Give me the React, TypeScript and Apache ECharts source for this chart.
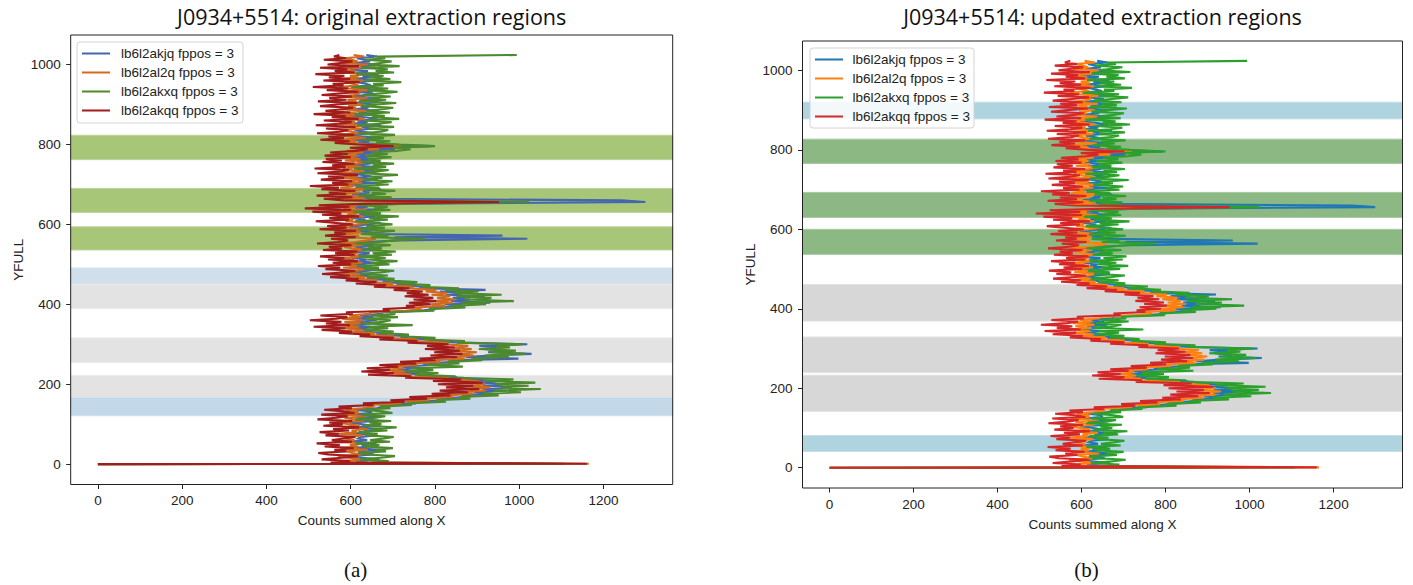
import React, { useEffect, useRef } from "react";
import * as echarts from "echarts";

// ---------- texts ----------
const TITLE_A = "J0934+5514: original extraction regions";
const TITLE_B = "J0934+5514: updated extraction regions";
const X_NAME = "Counts summed along X";
const Y_NAME = "YFULL";
const PANEL_TAGS = ["(a)", "(b)"];
const SERIES_NAMES = [
  "lb6l2akjq fppos = 3",
  "lb6l2al2q fppos = 3",
  "lb6l2akxq fppos = 3",
  "lb6l2akqq fppos = 3",
];

// ---------- ticks ----------
const X_TICKS = [0, 200, 400, 600, 800, 1000, 1200];
const Y_TICKS = [0, 200, 400, 600, 800, 1000];

// ---------- data rows (YFULL): 0, 1, then every 4th row up to 1024 ----------
const FIRST_ROWS = [0, 1];
const ROW_STEP = 4;
const ROW_COUNT = 256;
const YFULL = [...FIRST_ROWS, ...Array.from({ length: ROW_COUNT }, (_, i) => ROW_STEP * (i + 1))];

// ---------- counts summed along X ----------
const BLUE_X = [0, 905,
  641, 612, 668, 627, 599, 655, 634, 618, 672, 603, 647, 626, 661, 594, 639, 617,
  624, 660, 601, 645, 631, 674, 609, 652, 628, 596, 664, 638, 615, 669, 604, 649,
  647, 611, 662, 680, 671, 752, 751, 822, 806, 879, 864, 935, 892, 961, 913, 982,
  914, 968, 902, 949, 879, 867, 760, 777, 715, 762, 709, 758, 722, 794, 772, 851,
  832, 998, 873, 931, 1029, 926, 958, 917, 949, 905, 1019, 862, 789, 794, 718, 736,
  661, 688, 617, 657, 606, 648, 598, 651, 612, 662, 603, 654, 622, 673, 676, 762,
  801, 786, 862, 823, 931, 838, 884, 842, 918, 826, 865, 812, 920, 763, 781, 709,
  731, 676, 692, 638, 663, 614, 650, 601, 641, 667, 609, 648, 597, 656, 620, 637,
  603, 660, 617, 645, 594, 668, 629, 611, 654, 598, 640, 712, 1019, 704, 960, 652,
  651, 608, 663, 624, 597, 642, 671, 613, 635, 601, 659, 620, 646, 592, 667, 611,
  640, 602, 735, 1299, 1243, 668, 619, 657, 603, 645, 628, 672, 611, 638, 596, 662,
  618, 664, 605, 649, 627, 594, 661, 633, 612, 656, 600, 643, 670, 615, 652, 608,
  646, 612, 659, 621, 705, 655, 792, 672, 617, 644, 601, 666, 627, 597, 654, 630,
  609, 657, 626, 672, 603, 640, 615, 663, 634, 596, 650, 619, 667, 606, 642, 624,
  661, 607, 644, 622, 669, 598, 637, 653, 614, 671, 626, 601, 648, 635, 616, 660,
  604, 649, 628, 666, 611, 641, 597, 658, 623, 670, 609, 646, 631, 615, 662, 637];

const ORANGE_X = [0, 1165,
  612, 581, 634, 596, 570, 627, 604, 589, 641, 575, 618, 598, 632, 566, 609, 587,
  593, 628, 571, 615, 602, 639, 580, 621, 597, 566, 630, 608, 585, 636, 574, 617,
  617, 589, 628, 651, 643, 718, 721, 787, 770, 842, 829, 891, 857, 918, 874, 931,
  872, 920, 865, 903, 842, 828, 731, 742, 686, 729, 681, 724, 695, 759, 741, 812,
  798, 871, 838, 892, 851, 899, 846, 887, 838, 879, 820, 827, 751, 759, 687, 703,
  632, 657, 591, 628, 580, 619, 574, 624, 585, 631, 579, 626, 596, 643, 648, 729,
  768, 752, 824, 791, 841, 800, 847, 805, 836, 792, 828, 778, 803, 731, 749, 678,
  701, 645, 663, 610, 634, 588, 622, 575, 613, 637, 582, 619, 571, 627, 594, 608,
  577, 631, 590, 616, 568, 639, 602, 584, 625, 573, 611, 642, 660, 597, 620, 581,
  624, 580, 633, 596, 569, 615, 641, 587, 606, 574, 629, 592, 618, 565, 637, 583,
  612, 571, 689, 811, 628, 579, 634, 592, 568, 621, 587, 640, 575, 609, 563, 626,
  589, 635, 574, 618, 597, 564, 630, 603, 582, 627, 571, 614, 640, 586, 621, 578,
  616, 583, 629, 591, 668, 624, 721, 642, 588, 613, 571, 636, 597, 566, 624, 601,
  580, 627, 596, 642, 573, 610, 585, 633, 604, 567, 621, 589, 637, 576, 612, 594,
  631, 578, 614, 592, 639, 569, 607, 623, 584, 641, 596, 572, 618, 605, 586, 630,
  575, 619, 598, 636, 582, 611, 567, 628, 593, 640, 579, 616, 601, 585, 632, 607];

const GREEN_X = [0, 1108,
  648, 690, 622, 671, 705, 640, 617, 684, 659, 700, 631, 668, 612, 693, 646, 679,
  702, 635, 664, 618, 687, 651, 709, 628, 673, 644, 696, 611, 660, 682, 625, 699,
  676, 628, 694, 668, 745, 733, 826, 802, 884, 858, 951, 912, 1004, 938, 1051, 957,
  1022, 944, 1038, 921, 986, 853, 847, 752, 808, 731, 796, 742, 866, 781, 858, 829,
  912, 887, 975, 918, 1015, 931, 992, 904, 978, 947, 1008, 852, 871, 773, 801, 718,
  738, 668, 702, 631, 689, 641, 747, 627, 676, 695, 634, 712, 648, 706, 694, 798,
  786, 872, 838, 921, 862, 987, 870, 934, 851, 958, 846, 903, 824, 857, 768, 789,
  712, 758, 681, 704, 639, 688, 622, 671, 703, 630, 667, 615, 692, 649, 711, 637,
  683, 619, 698, 652, 707, 626, 674, 641, 695, 613, 668, 703, 776, 648, 690, 624,
  659, 705, 618, 681, 637, 699, 652, 610, 688, 643, 714, 629, 672, 606, 694, 655,
  688, 622, 736, 1023, 701, 640, 697, 618, 683, 649, 706, 631, 668, 612, 690, 657,
  699, 628, 675, 644, 712, 620, 661, 690, 608, 684, 652, 703, 625, 671, 640, 697,
  634, 688, 651, 709, 742, 698, 800, 716, 660, 694, 627, 679, 646, 705, 618, 672,
  689, 641, 703, 615, 668, 697, 632, 715, 650, 681, 609, 693, 638, 676, 701, 624,
  662, 708, 619, 684, 647, 695, 628, 672, 711, 640, 689, 606, 678, 653, 720, 631,
  694, 645, 678, 613, 703, 659, 688, 624, 716, 642, 671, 697, 633, 682, 660, 994];

const RED_X = [0, 1160,
  552, 598, 531, 579, 617, 546, 523, 590, 561, 607, 538, 574, 519, 603, 555, 584,
  611, 540, 572, 526, 596, 558, 620, 535, 581, 549, 604, 521, 566, 593, 530, 609,
  584, 537, 603, 571, 654, 629, 728, 694, 781, 739, 836, 792, 878, 811, 905, 826,
  891, 807, 913, 795, 862, 729, 744, 641, 702, 625, 693, 638, 712, 668, 755, 717,
  801, 763, 852, 789, 865, 798, 859, 776, 847, 781, 832, 735, 758, 668, 702, 621,
  646, 572, 603, 531, 587, 512, 598, 541, 578, 503, 566, 592, 528, 605, 589, 693,
  676, 752, 731, 790, 738, 803, 749, 796, 728, 785, 733, 771, 702, 739, 655, 684,
  612, 661, 588, 619, 551, 598, 532, 583, 611, 540, 575, 522, 601, 557, 618, 546,
  585, 527, 609, 563, 616, 534, 579, 548, 602, 520, 571, 594, 553, 612, 539, 588,
  561, 613, 526, 590, 544, 605, 558, 517, 596, 549, 620, 532, 578, 509, 601, 491,
  597, 524, 642, 952, 583, 536, 604, 519, 589, 548, 611, 530, 572, 503, 595, 556,
  603, 529, 584, 546, 617, 521, 570, 596, 514, 588, 556, 609, 533, 579, 541, 600,
  538, 593, 551, 612, 640, 598, 702, 617, 562, 597, 528, 584, 547, 608, 520, 575,
  594, 541, 611, 517, 573, 602, 536, 619, 555, 588, 512, 599, 540, 581, 606, 527,
  566, 615, 522, 590, 549, 603, 531, 577, 618, 543, 594, 510, 583, 557, 621, 535,
  599, 548, 585, 516, 609, 562, 592, 527, 620, 545, 576, 604, 536, 589, 560, 573];

const SERIES_X = [BLUE_X, ORANGE_X, GREEN_X, RED_X];

// ---------- extraction regions: [low YFULL, high YFULL, kind] ----------
// kind: 0 = source (green), 1 = background (grey), 2 = lower sky (blue), 3 = upper sky (blue)
const REGIONS_A_LOW = [762, 630, 536, 450, 389, 254, 167, 121];
const REGIONS_A_HIGH = [823, 690, 594, 491, 450, 316, 222, 167];
const REGIONS_A_KIND = [0, 0, 0, 3, 1, 1, 1, 2];

const REGIONS_B_LOW = [878, 766, 630, 537, 369, 240, 142, 41];
const REGIONS_B_HIGH = [920, 827, 693, 600, 461, 329, 233, 81];
const REGIONS_B_KIND = [3, 0, 0, 0, 1, 1, 1, 2];

// ---------- styles ----------
const COLORS_A = ["#4465b0", "#cf6a1e", "#4b8a2d", "#a31c1c"];
const COLORS_B = ["#1f77b4", "#ff7f0e", "#2ca02c", "#d62728"];
const REGION_FILL_A = ["#a7c677", "#e3e3e3", "#c3d8e8", "#cfe0ec"];
const REGION_EDGE_A = ["#bcd59a", "#ececec", "#d2e2ee", "#dbe8f1"];
const REGION_FILL_B = ["#8bb883", "#d7d7d7", "#afd4e0", "#afd4e0"];
const REGION_EDGE_B = ["#a6c9a0", "#e2e2e2", "#c3dfe8", "#c3dfe8"];

const FONT = "'Liberation Sans', Arial, sans-serif";
const TITLE_FONT = "'Open Sans', 'Noto Sans', sans-serif";
const SERIF = "'Liberation Serif', 'Times New Roman', serif";

type Panel = {
  left: number; top: number; width: number; height: number;
  title: string; tag: string; colors: string[];
  low: number[]; high: number[]; kind: number[];
  fill: string[]; edge: string[];
  legend: { x: number; y: number; w: number; h: number; rows: number[]; lineX: number; textX: number };
};

const PANELS: Panel[] = [
  {
    left: 70.7, top: 35, width: 602, height: 449.5,
    title: TITLE_A, tag: PANEL_TAGS[0], colors: COLORS_A,
    low: REGIONS_A_LOW, high: REGIONS_A_HIGH, kind: REGIONS_A_KIND,
    fill: REGION_FILL_A, edge: REGION_EDGE_A,
    legend: { x: 77, y: 42, w: 166, h: 81, rows: [53.5, 72.5, 91.5, 110.5], lineX: 82, textX: 121 },
  },
  {
    left: 802.5, top: 41, width: 600, height: 447,
    title: TITLE_B, tag: PANEL_TAGS[1], colors: COLORS_B,
    low: REGIONS_B_LOW, high: REGIONS_B_HIGH, kind: REGIONS_B_KIND,
    fill: REGION_FILL_B, edge: REGION_EDGE_B,
    legend: { x: 810, y: 48, w: 164, h: 80, rows: [59.5, 78.5, 97.5, 116.5], lineX: 815, textX: 852.5 },
  },
];

const X_MIN = -64.5, X_MAX = 1364, Y_MIN = -51, Y_MAX = 1074;

function buildOption() {
  const grid: any[] = [];
  const xAxis: any[] = [];
  const yAxis: any[] = [];
  const series: any[] = [];
  const graphic: any[] = [];

  PANELS.forEach((p, gi) => {
    grid.push({ left: p.left, top: p.top, width: p.width, height: p.height, show: false });
    xAxis.push({
      type: "value", gridIndex: gi, min: X_MIN, max: X_MAX, position: "bottom",
      axisLine: { show: false, onZero: false },
      splitLine: { show: false },
      axisTick: { show: true, customValues: X_TICKS, length: 4.5, lineStyle: { color: "#222", width: 1 } },
      axisLabel: {
        customValues: X_TICKS, color: "#222", fontSize: 13.5, fontFamily: FONT, margin: 9,
        formatter: (v: number) => String(v),
      },
    });
    yAxis.push({
      type: "value", gridIndex: gi, min: Y_MIN, max: Y_MAX, position: "left",
      axisLine: { show: false, onZero: false },
      splitLine: { show: false },
      axisTick: { show: true, customValues: Y_TICKS, length: 4.5, lineStyle: { color: "#222", width: 1 } },
      axisLabel: {
        customValues: Y_TICKS, color: "#222", fontSize: 13.5, fontFamily: FONT, margin: 10,
        formatter: (v: number) => String(v),
      },
    });

    const regionData = p.low.map((lo, i) => [lo, p.high[i], p.kind[i]]);
    series.push({
      type: "custom",
      xAxisIndex: gi, yAxisIndex: gi,
      z: 1, silent: true,
      data: regionData,
      renderItem: (params: any, api: any) => {
        const lo = api.value(0);
        const hi = api.value(1);
        const k = api.value(2);
        const yTop = api.coord([0, hi])[1];
        const yBot = api.coord([0, lo])[1];
        const cs = params.coordSys;
        return {
          type: "rect",
          shape: { x: cs.x, y: yTop, width: cs.width, height: yBot - yTop },
          style: { fill: p.fill[k], stroke: p.edge[k], lineWidth: 1 },
        };
      },
    });

    SERIES_X.forEach((xs, si) => {
      series.push({
        type: "line",
        name: SERIES_NAMES[si],
        xAxisIndex: gi, yAxisIndex: gi,
        z: 2,
        showSymbol: false,
        symbol: "none",
        silent: true,
        data: xs.map((x, i) => [x, YFULL[i]]),
        lineStyle: { color: p.colors[si], width: 2.1, join: "miter" },
        itemStyle: { color: p.colors[si] },
      });
    });

    // frame
    graphic.push({
      type: "rect", z: 100, silent: true,
      shape: { x: p.left, y: p.top, width: p.width, height: p.height },
      style: { fill: "none", stroke: "#222", lineWidth: 1 },
    });
    const cx = p.left + p.width / 2;
    const cy = p.top + p.height / 2;
    // title
    graphic.push({
      type: "text", z: 100, x: cx, y: 16,
      style: { text: p.title, fontSize: 21.5, fontFamily: TITLE_FONT, fill: "#111", align: "center", verticalAlign: "middle" },
    });
    // axis names
    graphic.push({
      type: "text", z: 100, x: cx, y: p.top + p.height + 36,
      style: { text: X_NAME, fontSize: 13.5, fontFamily: FONT, fill: "#222", align: "center", verticalAlign: "middle" },
    });
    graphic.push({
      type: "text", z: 100, x: p.left - 52, y: cy, rotation: Math.PI / 2,
      style: { text: Y_NAME, fontSize: 13.5, fontFamily: FONT, fill: "#222", align: "center", verticalAlign: "middle" },
    });
    // panel tag
    graphic.push({
      type: "text", z: 100, x: cx - 16, y: 570,
      style: { text: p.tag, fontSize: 21, fontFamily: SERIF, fill: "#111", align: "center", verticalAlign: "middle" },
    });
    // legend
    const L = p.legend;
    graphic.push({
      type: "rect", z: 101,
      shape: { x: L.x, y: L.y, width: L.w, height: L.h, r: 3 },
      style: { fill: "rgba(255,255,255,0.85)", stroke: "#d4d4d4", lineWidth: 1 },
    });
    SERIES_NAMES.forEach((nm, si) => {
      graphic.push({
        type: "line", z: 102,
        shape: { x1: L.lineX, y1: L.rows[si], x2: L.lineX + 28, y2: L.rows[si] },
        style: { stroke: p.colors[si], lineWidth: 2 },
      });
      graphic.push({
        type: "text", z: 102, x: L.textX, y: L.rows[si],
        style: { text: nm, fontSize: 13.5, fontFamily: FONT, fill: "#222", align: "left", verticalAlign: "middle" },
      });
    });
  });

  return {
    animation: false,
    backgroundColor: "#ffffff",
    grid, xAxis, yAxis, series, graphic,
  };
}

export default function App() {
  const ref = useRef<HTMLDivElement>(null);
  useEffect(() => {
    if (!ref.current) return;
    const chart = echarts.init(ref.current, undefined, { renderer: "svg" });
    chart.setOption(buildOption());
    return () => chart.dispose();
  }, []);
  return (
    <div
      ref={ref}
      style={{ position: "fixed", left: 0, top: 0, width: 1413, height: 585, background: "#fff" }}
    />
  );
}
